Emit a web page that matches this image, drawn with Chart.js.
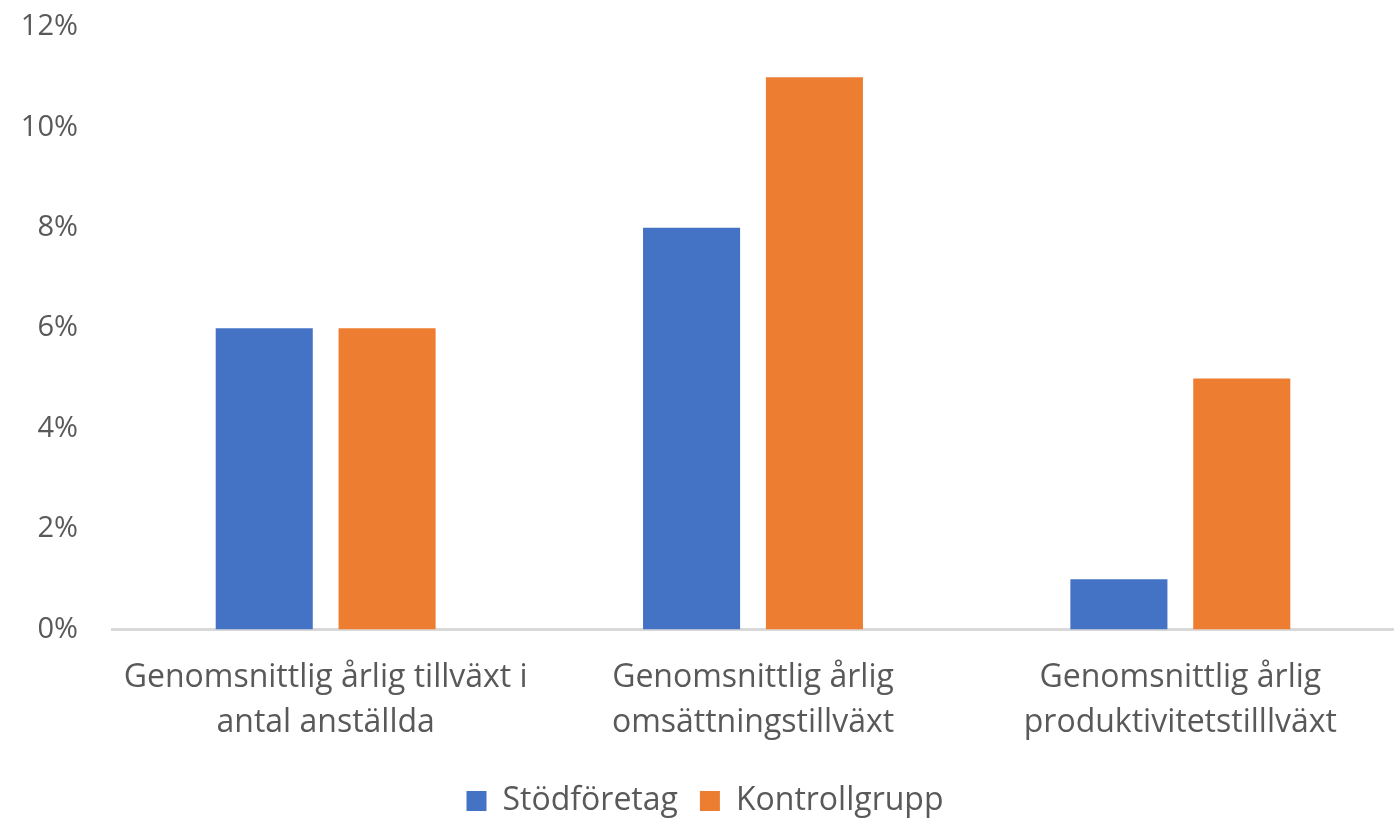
<!DOCTYPE html>
<html>
<head>
<meta charset="utf-8">
<script src="https://cdn.jsdelivr.net/npm/chart.js@4/dist/chart.umd.min.js"></script>
<style>
  html, body { margin: 0; padding: 0; background: #fff; }
  #wrap { width: 1394px; height: 821px; }
</style>
</head>
<body>
<div id="wrap"><canvas id="barChart"></canvas></div>
<script>
var categories = [
	["Genomsnittlig årlig tillväxt i", "antal anställda"],
	["Genomsnittlig årlig", "omsättningstillväxt"],
	["Genomsnittlig årlig", "produktivitetstilllväxt"]
];
var stodforetag = [6, 8, 1];
var kontrollgrupp = [6, 11, 5];
var yTicks = [0, 2, 4, 6, 8, 10, 12];

var textColor = '#595959';
var fontFamily = "'Open Sans', 'Liberation Sans', sans-serif";

var ctx = document.getElementById("barChart").getContext("2d");
var myChart = new Chart(ctx, {
	type: 'bar',
	data: {
		labels: categories,
		datasets: [{
			label: 'Stödföretag',
			backgroundColor: '#4472C4',
			data: stodforetag
		}, {
			label: 'Kontrollgrupp',
			backgroundColor: '#ED7D31',
			data: kontrollgrupp
		}]
	},
	options: {
		responsive: true,
		maintainAspectRatio: false,
		animation: false,
		categoryPercentage: 0.575,
		barPercentage: 0.79,
		layout: { padding: { top: 27, left: 10, right: -6, bottom: -6 } },
		plugins: {
			legend: {
				position: 'bottom',
				labels: {
					color: textColor,
					font: { family: fontFamily, size: 32 },
					boxWidth: 20,
					boxHeight: 20,
					padding: 22
				}
			},
			tooltip: { enabled: false }
		},
		scales: {
			x: {
				grid: { display: false },
				border: { color: '#d9d9d9', width: 3 },
				ticks: {
					color: textColor,
					font: { family: fontFamily, size: 32, lineHeight: 1.4 },
					maxRotation: 0,
					padding: 18
				}
			},
			y: {
				min: 0,
				max: 12,
				afterBuildTicks: function (scale) {
					scale.ticks = yTicks.map(function (v) { return { value: v }; });
				},
				afterFit: function (scale) {
					scale.width = 102;
					scale.paddingTop = 0;
					scale.paddingBottom = 0;
				},
				grid: { display: false },
				border: { display: false },
				ticks: {
					color: textColor,
					font: { family: fontFamily, size: 29 },
					padding: 26,
					callback: function (v) { return v + '%'; }
				}
			}
		}
	}
});
</script>
</body>
</html>
